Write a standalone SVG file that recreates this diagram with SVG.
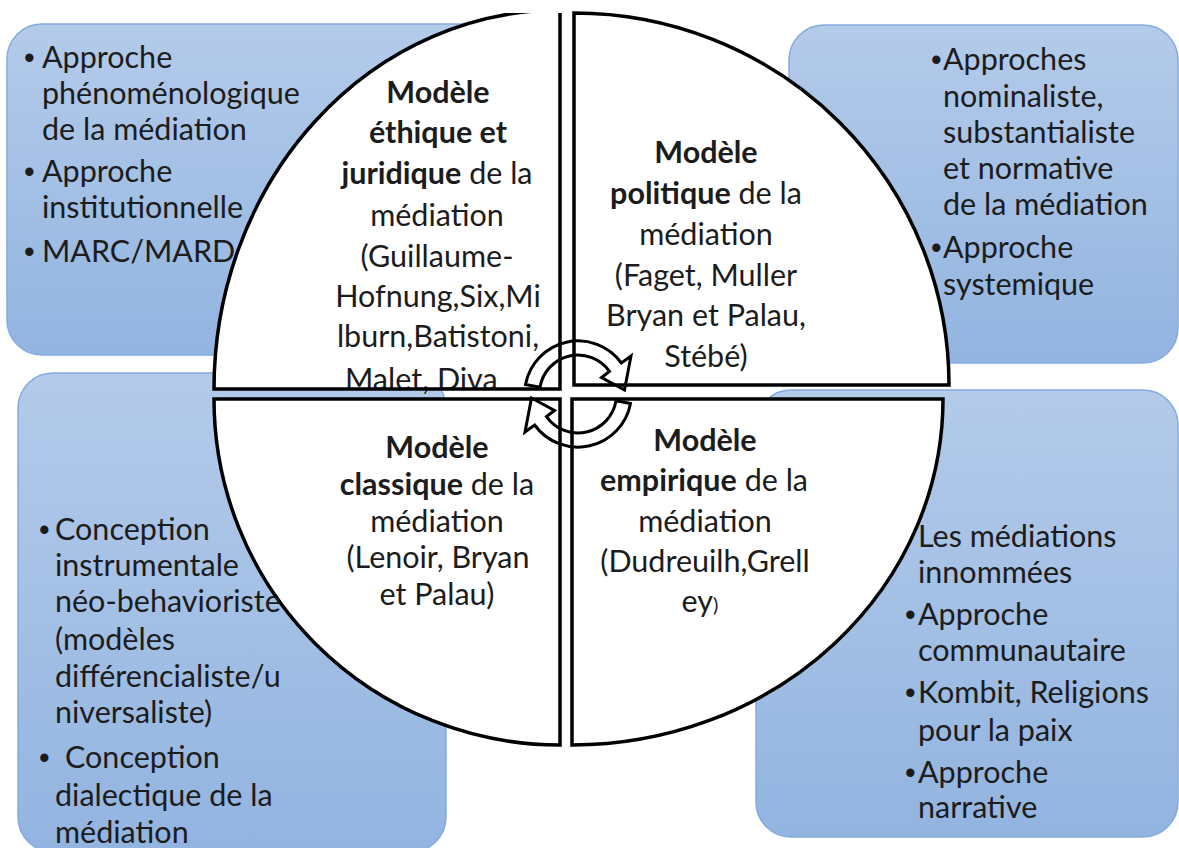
<svg xmlns="http://www.w3.org/2000/svg" width="1179" height="848" viewBox="0 0 1179 848">
<defs>
<linearGradient id="bg" x1="0" y1="0" x2="0" y2="1">
<stop offset="0" stop-color="#b4cbea"/>
<stop offset="1" stop-color="#92b4e0"/>
</linearGradient>
<clipPath id="topclip"><rect x="0" y="13" width="1179" height="835"/></clipPath>
<path id="carrow" d="M -52.5,-9.5 A 53.5 53.5 0 0 1 43.4,-31 L 53,-38 L 46.5,-4 L 23.5,-16.5 L 31.5,-22.6 A 38.5 38.5 0 0 0 -38,-6.8 Z"/>
<style>
.box{fill:url(#bg);stroke:#84aade;stroke-width:1.5}
.q{fill:#fff;stroke:none}
.qs{fill:none;stroke:#000;stroke-width:3.5;stroke-linejoin:miter}
.t{font-family:Lato,"Liberation Sans","DejaVu Sans",sans-serif;font-size:30.5px;fill:#1c1c1c}
.bu{font-family:"Liberation Sans",Arial,sans-serif;font-size:30.5px;fill:#1c1c1c}
.c{text-anchor:middle}
.b{font-weight:bold}
.arr{fill:none;stroke:#000;stroke-width:3;stroke-linejoin:miter}
</style>
</defs>
<rect width="1179" height="848" fill="#fff"/>

<g id="box-tl"><rect class="box" x="7" y="24" width="493" height="331" rx="35"/></g>
<g id="box-tr"><rect class="box" x="789" y="25" width="389" height="338" rx="35"/></g>
<g id="box-bl"><rect class="box" x="18" y="373" width="428" height="479" rx="35"/></g>
<g id="box-br"><rect class="box" x="756" y="390" width="422" height="447" rx="35"/></g>

<g id="quad-tl">
<path class="q" clip-path="url(#topclip)" d="M560,389 L214,389 A346,379 0 0 1 560,10 Z"/>
<text class="t c"><tspan class="b" x="438" y="103">Modèle</tspan><tspan class="b" x="438" y="143">éthique et</tspan><tspan x="437" y="184"><tspan class="b">juridique</tspan> de la</tspan><tspan x="437" y="226">médiation</tspan><tspan x="437" y="267">(Guillaume-</tspan><tspan x="438" y="307">Hofnung,Six,Mi</tspan><tspan x="438" y="347">lburn,Batistoni,</tspan></text>
<text class="t" x="345" y="390">Malet, Diva</text>
<path class="qs" clip-path="url(#topclip)" d="M560,389 L214,389 A346,379 0 0 1 560,10 Z"/>
</g>

<g id="quad-tr">
<path class="q" d="M574,385 L574,13 A375,372 0 0 1 949,385 Z"/>
<text class="t c"><tspan class="b" x="706" y="163">Modèle</tspan><tspan x="706" y="204"><tspan class="b">politique</tspan> de la</tspan><tspan x="706" y="245">médiation</tspan><tspan x="706" y="286">(Faget, Muller</tspan><tspan x="706" y="326">Bryan et Palau,</tspan><tspan x="706" y="367">Stébé)</tspan></text>
<path class="qs" d="M574,385 L574,13 A375,372 0 0 1 949,385 Z"/>
</g>

<g id="quad-bl">
<path class="q" d="M560,399 L560,745 A346,346 0 0 1 214,399 Z"/>
<text class="t c"><tspan class="b" x="437" y="458">Modèle</tspan><tspan x="437" y="495"><tspan class="b">classique</tspan> de la</tspan><tspan x="437" y="532">médiation</tspan><tspan x="438" y="568">(Lenoir, Bryan</tspan><tspan x="437" y="605">et Palau)</tspan></text>
<path class="qs" d="M560,399 L560,745 A346,346 0 0 1 214,399 Z"/>
</g>

<g id="quad-br">
<path class="q" d="M572,399 L943,399 A371,346 0 0 1 572,745 Z"/>
<text class="t c"><tspan class="b" x="705" y="451">Modèle</tspan><tspan x="704" y="491"><tspan class="b">empirique</tspan> de la</tspan><tspan x="705" y="532">médiation</tspan><tspan x="705" y="572">(Dudreuilh,Grell</tspan><tspan x="700" y="612">ey<tspan font-size="20">)</tspan></tspan></text>
<path class="qs" d="M572,399 L943,399 A371,346 0 0 1 572,745 Z"/>
</g>

<g id="text-tl">
<text class="bu" x="24" y="68">•</text><text class="t" x="42" y="68">Approche</text>
<text class="t" x="42" y="104">phénoménologique</text>
<text class="t" x="42" y="140">de la médiation</text>
<text class="bu" x="24" y="182">•</text><text class="t" x="42" y="182">Approche</text>
<text class="t" x="42" y="218">institutionnelle</text>
<text class="bu" x="24" y="262">•</text><text class="t" x="42" y="262">MARC/MARD</text>
</g>

<g id="text-tr">
<text class="bu" x="931" y="70">•</text><text class="t" x="943" y="70">Approches</text>
<text class="t" x="943" y="107">nominaliste,</text>
<text class="t" x="943" y="143">substantialiste</text>
<text class="t" x="943" y="179">et normative</text>
<text class="t" x="943" y="215">de la médiation</text>
<text class="bu" x="931" y="258">•</text><text class="t" x="943" y="258">Approche</text>
<text class="t" x="943" y="295">systemique</text>
</g>

<g id="text-bl">
<text class="bu" x="39" y="540">•</text><text class="t" x="55" y="540">Conception</text>
<text class="t" x="55" y="576">instrumentale</text>
<text class="t" x="55" y="612">néo-behavioriste</text>
<text class="t" x="55" y="650">(modèles</text>
<text class="t" x="55" y="687">différencialiste/u</text>
<text class="t" x="55" y="723">niversaliste)</text>
<text class="bu" x="39" y="768">•</text><text class="t" x="65" y="768">Conception</text>
<text class="t" x="55" y="806">dialectique de la</text>
<text class="t" x="55" y="843">médiation</text>
</g>

<g id="text-br">
<text class="t" x="918" y="547">Les médiations</text>
<text class="t" x="918" y="583">innommées</text>
<text class="bu" x="905" y="625">•</text><text class="t" x="918" y="625">Approche</text>
<text class="t" x="918" y="661">communautaire</text>
<text class="bu" x="905" y="703">•</text><text class="t" x="918" y="703">Kombit, Religions</text>
<text class="t" x="918" y="741">pour la paix</text>
<text class="bu" x="905" y="783">•</text><text class="t" x="918" y="783">Approche</text>
<text class="t" x="918" y="818">narrative</text>
</g>

<g id="connectors">
<use href="#carrow" class="arr" transform="translate(578,394)"/>
<use href="#carrow" class="arr" transform="translate(578,394) rotate(180)"/>
</g>
</svg>
